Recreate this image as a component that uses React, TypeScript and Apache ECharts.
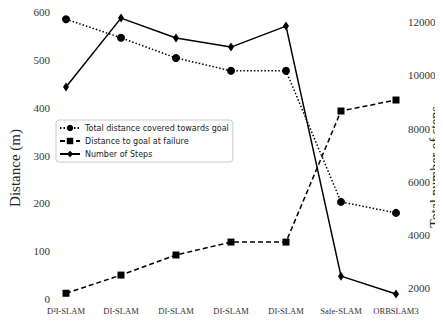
import React, { useEffect, useRef } from "react";
import * as echarts from "echarts";

const categories = [
  "D²I-SLAM",
  "DI-SLAM\n+LSTM",
  "DI-SLAM\n+2D map",
  "DI-SLAM\n+depth",
  "DI-SLAM",
  "Safe-SLAM",
  "ORBSLAM3",
];
const totalDistance = [585, 546, 504, 477, 477, 203, 180];
const distanceToGoal = [12, 50, 92, 119, 119, 393, 416];
const numberOfSteps = [9560, 12150, 11400, 11060, 11850, 2450, 1775];
const leftTicks = [0, 100, 200, 300, 400, 500, 600];
const rightTicks = [2000, 4000, 6000, 8000, 10000, 12000];

export default function App() {
  const ref = useRef<HTMLDivElement>(null);
  useEffect(() => {
    const chart = echarts.init(ref.current!, null, { renderer: "svg" });
    const serif = "'Liberation Serif', 'DejaVu Serif', serif";
    chart.setOption({
      animation: false,
      backgroundColor: "#fff",
      grid: { left: 66, right: 47, top: 12, bottom: 25, outerBoundsMode: "none", containLabel: false },
      legend: {
        orient: "vertical",
        left: 56,
        top: 120,
        itemWidth: 20,
        itemHeight: 8,
        itemGap: 5,
        padding: [4, 4, 4, 3],
        borderColor: "#cccccc",
        borderWidth: 1,
        borderRadius: 3,
        textStyle: { fontFamily: "'DejaVu Sans', sans-serif", fontSize: 8, color: "#222" },
        data: ["Total distance covered towards goal", "Distance to goal at failure", "Number of Steps"],
      },
      graphic: [
        {
          type: "text",
          x: 15,
          y: 168,
          rotation: Math.PI / 2,
          style: {
            text: "Distance (m)",
            font: `15px ${serif}`,
            fill: "#222",
            textAlign: "center",
            textVerticalAlign: "middle",
          },
        },
        {
          type: "text",
          x: 435,
          y: 167,
          rotation: Math.PI / 2,
          style: {
            text: "Total number of steps",
            font: `14px ${serif}`,
            fill: "#222",
            textAlign: "center",
            textVerticalAlign: "middle",
          },
        },
      ],
      xAxis: {
        type: "category",
        data: categories,
        boundaryGap: false,
        axisLine: { show: false },
        axisTick: { show: false },
        axisLabel: {
          interval: 0,
          fontFamily: serif,
          fontSize: 8.5,
          color: "#333",
          margin: 6,
          lineHeight: 12,
        },
      },
      yAxis: [
        {
          type: "value",
          min: 0,
          max: 600,
          interval: 100,
          axisLine: { show: false },
          axisTick: { show: false },
          splitLine: { show: false },
          axisLabel: { fontFamily: serif, fontSize: 11, color: "#333", margin: 16, customValues: leftTicks },
        },
        {
          type: "value",
          min: 1590,
          max: 12380,
          axisLine: { show: false },
          axisTick: { show: false },
          splitLine: { show: false },
          axisLabel: {
            fontFamily: serif,
            fontSize: 11,
            color: "#333",
            margin: 12,
            customValues: rightTicks,
            formatter: (v: number) => String(Math.round(v)),
          },
        },
      ],
      series: [
        {
          name: "Total distance covered towards goal",
          type: "line",
          yAxisIndex: 0,
          data: totalDistance,
          symbol: "circle",
          symbolSize: 8,
          itemStyle: { color: "#000" },
          lineStyle: { color: "#000", width: 1.5, type: [1.5, 2] },
        },
        {
          name: "Distance to goal at failure",
          type: "line",
          yAxisIndex: 0,
          data: distanceToGoal,
          symbol: "rect",
          symbolSize: 7,
          itemStyle: { color: "#000" },
          lineStyle: { color: "#000", width: 1.5, type: [5, 3] },
        },
        {
          name: "Number of Steps",
          type: "line",
          yAxisIndex: 1,
          data: numberOfSteps,
          symbol: "diamond",
          symbolSize: [6, 9],
          itemStyle: { color: "#000" },
          lineStyle: { color: "#000", width: 1.5 },
        },
      ],
    });
    return () => chart.dispose();
  }, []);
  return <div ref={ref} style={{ width: 443, height: 324, margin: -8 }} />;
}
